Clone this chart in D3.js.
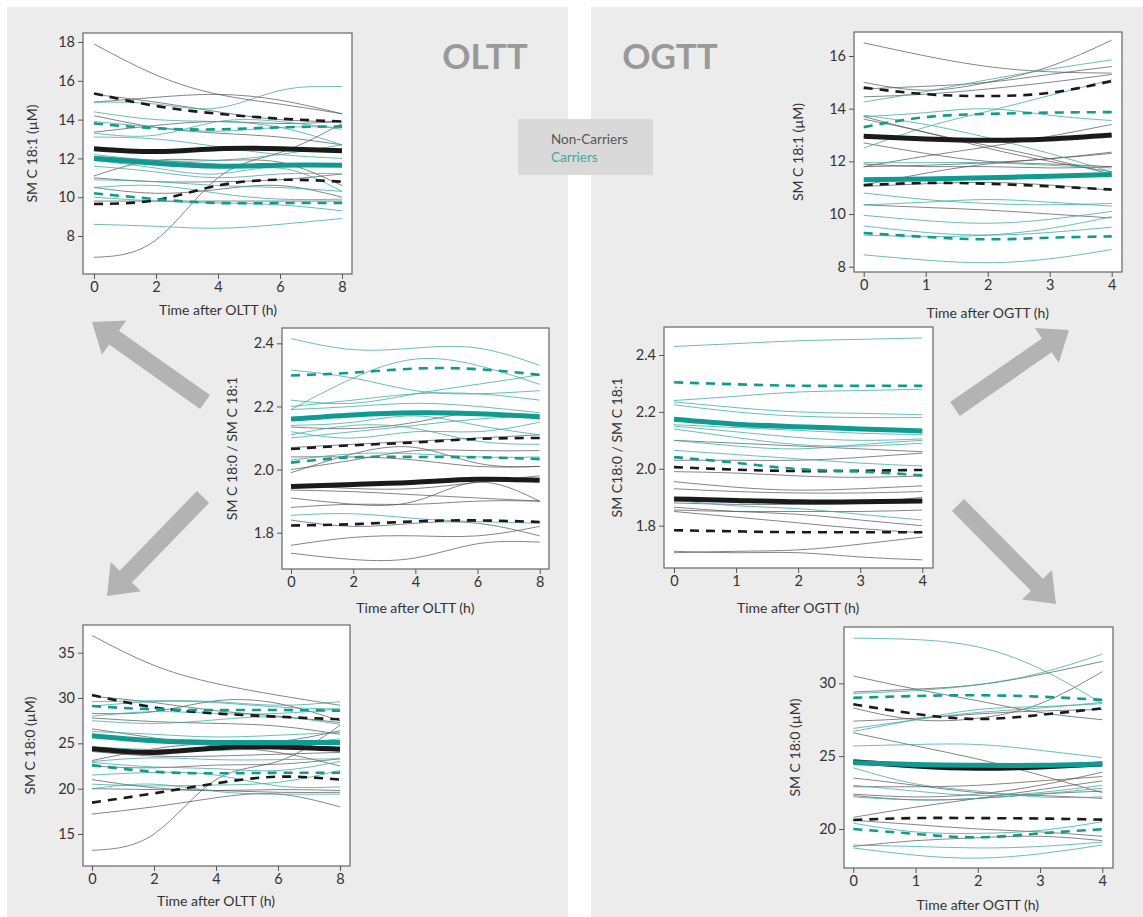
<!DOCTYPE html>
<html>
<head>
<meta charset="utf-8">
<script src="https://cdn.jsdelivr.net/npm/d3@7"></script>
<style>
  body { margin: 0; background: #fff; font-family: Lato, "Open Sans", sans-serif; }
  svg text { font-family: Lato, "Open Sans", sans-serif; }
  .tick text { font-size: 14.5px; fill: #333; }
  .tick line { stroke: #555; }
</style>
</head>
<body>
<div id="chart"></div>
<script>
// ---- data ----
const oltTimes = [0, 2, 4, 6, 8];
const ogtTimes = [0, 1, 2, 3, 4];

// OLTT, SM C 18:1
const oltC181Non = [
  [17.9, 16.3, 15.3, 14.8, 14.3], [6.9, 7.8, 11.0, 12.3, 13.8], [14.9, 15.15, 15.3, 15.0, 14.3],
  [15.3, 14.9, 14.4, 14.0, 13.9], [14.2, 13.6, 13.3, 13.1, 12.7], [13.35, 13.7, 13.9, 13.8, 13.9],
  [11.1, 11.9, 11.9, 11.8, 10.6], [12.1, 11.9, 11.7, 11.6, 11.7], [11.0, 10.8, 10.8, 10.9, 11.2],
  [10.5, 10.2, 10.4, 10.6, 10.0], [9.8, 9.8, 9.8, 9.8, 9.8]
];
const oltC181Car = [
  [14.9, 14.8, 14.6, 15.5, 15.7], [14.4, 14.0, 13.9, 13.6, 12.7], [13.1, 13.0, 12.6, 12.2, 12.0],
  [13.3, 13.2, 13.9, 13.9, 13.5], [12.2, 11.9, 11.9, 12.2, 12.7], [11.6, 11.3, 11.0, 11.2, 11.2],
  [10.9, 10.8, 10.6, 10.5, 10.3], [10.5, 10.6, 10.2, 9.9, 9.9], [10.0, 9.8, 9.7, 9.6, 9.3],
  [8.6, 8.5, 8.4, 8.6, 8.9], [11.9, 11.5, 11.2, 11.5, 10.3], [13.9, 13.6, 13.4, 13.6, 13.6]
];
const oltC181NonMean = [12.5, 12.35, 12.5, 12.5, 12.4];
const oltC181NonHi = [15.35, 14.7, 14.3, 14.05, 13.9];
const oltC181NonLo = [9.65, 9.85, 10.6, 10.9, 10.8];
const oltC181CarMean = [12.0, 11.75, 11.6, 11.65, 11.65];
const oltC181CarHi = [13.8, 13.55, 13.5, 13.6, 13.65];
const oltC181CarLo = [10.2, 9.9, 9.7, 9.7, 9.7];

// OGTT, SM C 18:1
const ogtC181Non = [
  [16.5, 16.0, 15.6, 15.4, 15.35], [15.0, 14.7, 15.0, 15.6, 16.6], [14.75, 14.85, 15.0, 15.3, 15.6],
  [14.45, 14.55, 14.75, 15.0, 15.3], [13.7, 13.1, 12.6, 12.1, 11.5], [13.6, 13.1, 12.5, 12.0, 11.6],
  [12.7, 12.3, 12.0, 11.9, 11.8], [11.8, 12.2, 12.55, 12.95, 13.4], [11.8, 11.85, 11.95, 12.1, 12.35],
  [11.9, 11.8, 11.8, 11.75, 11.8], [11.1, 11.55, 11.9, 12.1, 12.3], [10.35, 10.25, 10.15, 10.0, 9.85],
  [11.05, 11.15, 11.2, 11.1, 10.9]
];
const ogtC181Car = [
  [14.25, 14.65, 15.1, 15.5, 15.85], [12.5, 13.3, 13.9, 14.5, 15.1], [13.7, 13.85, 14.0, 13.75, 13.55],
  [13.75, 13.4, 12.9, 12.3, 11.6], [11.95, 11.95, 11.95, 11.85, 11.75], [10.8, 10.55, 10.4, 10.35, 10.4],
  [10.35, 10.45, 10.55, 10.45, 10.3], [9.95, 9.75, 9.65, 9.8, 10.1], [9.55, 9.3, 9.2, 9.3, 9.5],
  [9.2, 9.15, 9.2, 9.45, 9.9], [8.45, 8.25, 8.15, 8.3, 8.65]
];
const ogtC181NonMean = [12.95, 12.85, 12.8, 12.85, 13.0];
const ogtC181NonHi = [14.8, 14.55, 14.48, 14.6, 15.05];
const ogtC181NonLo = [11.1, 11.18, 11.15, 11.05, 10.93];
const ogtC181CarMean = [11.3, 11.33, 11.38, 11.43, 11.5];
const ogtC181CarHi = [13.3, 13.68, 13.8, 13.85, 13.87];
const ogtC181CarLo = [9.28, 9.13, 9.04, 9.1, 9.15];

// OLTT, ratio
const oltRatioNon = [
  [2.135, 2.13, 2.15, 2.18, 2.16], [2.07, 2.08, 2.09, 2.1, 2.11], [2.0, 2.03, 2.06, 2.06, 2.06],
  [1.99, 2.05, 2.07, 2.02, 2.01], [2.04, 2.04, 2.03, 2.01, 2.01], [1.935, 1.93, 1.92, 1.91, 1.9],
  [1.91, 1.89, 1.9, 1.96, 1.9], [1.88, 1.89, 1.89, 1.9, 1.9], [1.84, 1.82, 1.83, 1.83, 1.79],
  [1.76, 1.785, 1.79, 1.79, 1.82], [1.735, 1.715, 1.72, 1.765, 1.77], [1.95, 1.94, 1.94, 1.96, 1.98]
];
const oltRatioCar = [
  [2.415, 2.38, 2.385, 2.385, 2.33], [2.19, 2.29, 2.35, 2.33, 2.27], [2.315, 2.29, 2.25, 2.24, 2.25],
  [2.22, 2.21, 2.24, 2.27, 2.30], [2.2, 2.22, 2.24, 2.24, 2.22], [2.19, 2.2, 2.21, 2.2, 2.18],
  [2.14, 2.15, 2.17, 2.14, 2.11], [2.12, 2.1, 2.12, 2.12, 2.15], [2.11, 2.14, 2.13, 2.09, 2.08],
  [2.03, 2.05, 2.05, 2.04, 2.04], [1.855, 1.86, 1.845, 1.835, 1.83], [2.1, 2.12, 2.14, 2.16, 2.17]
];
const oltRatioNonMean = [1.946, 1.953, 1.96, 1.969, 1.966];
const oltRatioNonHi = [2.065, 2.077, 2.086, 2.097, 2.1];
const oltRatioNonLo = [1.823, 1.827, 1.836, 1.839, 1.834];
const oltRatioCarMean = [2.16, 2.173, 2.18, 2.177, 2.167];
const oltRatioCarHi = [2.298, 2.307, 2.32, 2.318, 2.3];
const oltRatioCarLo = [2.022, 2.039, 2.04, 2.039, 2.033];

// OGTT, ratio
const ogtRatioNon = [
  [2.1, 2.09, 2.08, 2.07, 2.06], [1.99, 1.985, 1.975, 1.97, 1.975], [1.955, 1.935, 1.925, 1.93, 1.94],
  [1.93, 1.92, 1.915, 1.915, 1.92], [1.88, 1.875, 1.875, 1.88, 1.9], [1.865, 1.85, 1.84, 1.82, 1.8],
  [1.855, 1.85, 1.85, 1.85, 1.855], [1.85, 1.83, 1.81, 1.79, 1.775], [1.705, 1.71, 1.715, 1.735, 1.76],
  [1.71, 1.705, 1.705, 1.69, 1.68], [2.03, 2.03, 2.03, 2.04, 2.055]
];
const ogtRatioCar = [
  [2.43, 2.44, 2.45, 2.455, 2.46], [2.24, 2.255, 2.27, 2.275, 2.28], [2.235, 2.215, 2.2, 2.195, 2.19],
  [2.225, 2.2, 2.185, 2.18, 2.18], [2.155, 2.145, 2.135, 2.125, 2.12], [2.15, 2.13, 2.11, 2.1, 2.105],
  [2.14, 2.11, 2.085, 2.08, 2.09], [2.065, 2.05, 2.035, 2.02, 2.01], [1.89, 1.87, 1.86, 1.84, 1.82],
  [2.1, 2.08, 2.07, 2.085, 2.1]
];
const ogtRatioNonMean = [1.894, 1.889, 1.884, 1.884, 1.887];
const ogtRatioNonHi = [2.006, 1.997, 1.992, 1.993, 1.996];
const ogtRatioNonLo = [1.784, 1.78, 1.777, 1.777, 1.777];
const ogtRatioCarMean = [2.174, 2.157, 2.148, 2.14, 2.133];
const ogtRatioCarHi = [2.304, 2.297, 2.292, 2.292, 2.292];
const ogtRatioCarLo = [2.041, 2.021, 1.999, 1.99, 1.977];

// OLTT, SM C 18:0
const oltC180Non = [
  [36.9, 33.6, 31.6, 30.3, 29.2], [13.2, 15.0, 21.0, 23.0, 27.0], [30.2, 29.5, 28.6, 28.0, 27.3],
  [28.3, 28.5, 29.7, 29.4, 27.5], [27.8, 27.4, 27.2, 26.9, 26.0], [26.6, 25.6, 24.7, 24.0, 22.5],
  [23.1, 24.4, 25.0, 25.2, 26.4], [24.1, 23.6, 23.6, 23.8, 24.0], [22.5, 22.3, 22.6, 22.7, 23.3],
  [21.0, 20.1, 19.8, 19.9, 19.8], [20.0, 19.9, 19.8, 19.6, 19.6], [17.2, 18.0, 19.0, 19.4, 18.0]
];
const oltC180Car = [
  [29.6, 29.7, 29.6, 29.2, 29.6], [29.1, 29.6, 29.5, 29.0, 28.8], [28.0, 28.5, 28.3, 28.3, 28.8],
  [27.5, 27.2, 27.6, 27.9, 27.1], [26.3, 26.0, 25.7, 25.9, 26.2], [25.8, 25.5, 25.3, 25.0, 25.5],
  [24.6, 24.3, 24.2, 24.5, 24.7], [23.0, 23.4, 23.2, 23.2, 23.3], [22.9, 22.4, 22.2, 22.0, 23.0],
  [21.5, 21.8, 21.5, 20.3, 20.2], [20.5, 20.3, 20.4, 20.7, 22.0], [20.0, 20.5, 19.7, 19.4, 19.4]
];
const oltC180NonMean = [24.4, 24.0, 24.5, 24.6, 24.35];
const oltC180NonHi = [30.33, 28.97, 28.3, 27.94, 27.65];
const oltC180NonLo = [18.46, 19.49, 20.59, 21.32, 21.0];
const oltC180CarMean = [25.85, 25.3, 25.1, 25.1, 25.1];
const oltC180CarHi = [29.12, 28.75, 28.68, 28.68, 28.6];
const oltC180CarLo = [22.6, 21.87, 21.7, 21.75, 21.76];

// OGTT, SM C 18:0
const ogtC180Non = [
  [30.5, 29.6, 28.8, 28.0, 27.5], [28.3, 27.5, 27.6, 28.6, 30.8], [29.4, 29.6, 29.9, 30.6, 31.5],
  [27.4, 27.6, 27.9, 28.1, 28.2], [26.6, 25.7, 24.8, 23.7, 22.5], [23.5, 23.0, 22.5, 22.3, 22.1],
  [22.9, 22.9, 23.0, 23.3, 23.6], [22.3, 22.0, 22.1, 22.4, 22.6], [20.8, 21.5, 22.1, 22.7, 23.3],
  [20.6, 20.3, 20.0, 19.8, 19.5], [18.8, 19.2, 19.4, 19.5, 19.2], [22.4, 22.2, 22.4, 23.0, 23.9]
];
const ogtC180Car = [
  [33.1, 33.0, 32.5, 31.0, 28.6], [29.3, 29.5, 29.9, 30.7, 32.0], [26.7, 27.5, 28.2, 28.4, 28.6],
  [26.9, 27.5, 28.0, 28.3, 28.7], [25.7, 25.8, 25.8, 25.4, 24.9], [24.2, 23.1, 22.6, 22.2, 22.2],
  [23.0, 22.6, 22.3, 22.5, 23.0], [22.2, 22.0, 22.1, 22.4, 22.8], [20.4, 19.8, 19.7, 19.9, 20.5],
  [18.9, 18.8, 18.7, 18.8, 19.1], [18.7, 18.2, 18.0, 18.3, 18.9]
];
const ogtC180NonMean = [24.62, 24.33, 24.17, 24.26, 24.46];
const ogtC180NonHi = [28.56, 27.9, 27.55, 27.83, 28.28];
const ogtC180NonLo = [20.62, 20.75, 20.75, 20.72, 20.64];
const ogtC180CarMean = [24.55, 24.42, 24.37, 24.37, 24.46];
const ogtC180CarHi = [29.0, 29.13, 29.18, 29.08, 28.86];
const ogtC180CarLo = [20.0, 19.66, 19.43, 19.7, 19.98];

// ---- layout ----
const W = 1143, H = 917;
const teal = "#0f9b92", tealThin = "#3aaaa3", dark = "#1a1a1a", greyThin = "#555";

const svg = d3.select("#chart").append("svg").attr("width", W).attr("height", H);

svg.append("rect").attr("x", 7).attr("y", 7).attr("width", 561).attr("height", 910).attr("fill", "#ececec");
svg.append("rect").attr("x", 591).attr("y", 7).attr("width", 552).attr("height", 910).attr("fill", "#ececec");

svg.append("text").attr("x", 485).attr("y", 69).attr("text-anchor", "middle")
  .attr("font-size", 35).attr("font-weight", "bold").attr("fill", "#999").text("OLTT");
svg.append("text").attr("x", 670).attr("y", 69).attr("text-anchor", "middle")
  .attr("font-size", 35).attr("font-weight", "bold").attr("fill", "#999").text("OGTT");

// legend
svg.append("rect").attr("x", 518).attr("y", 119).attr("width", 135).attr("height", 56).attr("fill", "#d9d9da");
svg.append("text").attr("x", 551).attr("y", 144).attr("font-size", 13.5).attr("fill", "#555").text("Non-Carriers");
svg.append("text").attr("x", 551).attr("y", 162).attr("font-size", 13.5).attr("fill", tealThin).text("Carriers");

// arrows
function arrow(tail, tip) {
  const dx = tip[0] - tail[0], dy = tip[1] - tail[1];
  const len = Math.hypot(dx, dy), ux = dx / len, uy = dy / len, nx = -uy, ny = ux;
  const sw = 8.5, hw = 21, hl = 27;
  const bx = tip[0] - ux * hl, by = tip[1] - uy * hl;
  const pts = [
    [tail[0] + nx * sw, tail[1] + ny * sw], [bx + nx * sw, by + ny * sw], [bx + nx * hw, by + ny * hw],
    tip, [bx - nx * hw, by - ny * hw], [bx - nx * sw, by - ny * sw], [tail[0] - nx * sw, tail[1] - ny * sw]
  ];
  svg.append("polygon").attr("points", pts.map(p => p.join(",")).join(" ")).attr("fill", "#b3b3b3");
}
arrow([205, 402], [92, 322]);
arrow([203, 497], [107, 596]);
arrow([955, 409], [1069, 330]);
arrow([958, 505], [1056, 604]);

function panel(cfg) {
  const x = d3.scaleLinear().domain([0, cfg.xMax]).range(cfg.xr);
  const y = d3.scaleLinear().domain(cfg.yd).range(cfg.yr);
  const f = cfg.frame; // [left, top, right, bottom]
  const g = svg.append("g");
  const id = "clip" + cfg.id;
  svg.append("clipPath").attr("id", id).append("rect")
    .attr("x", f[0]).attr("y", f[1]).attr("width", f[2] - f[0]).attr("height", f[3] - f[1]);
  g.append("rect").attr("x", f[0]).attr("y", f[1]).attr("width", f[2] - f[0]).attr("height", f[3] - f[1])
    .attr("fill", "#fff");

  const line = d3.line().x((d, i) => x(cfg.times[i])).y(d => y(d)).curve(d3.curveNatural);
  const lines = g.append("g").attr("clip-path", `url(#${id})`);

  lines.selectAll(".non").data(cfg.non).join("path").attr("d", line)
    .attr("fill", "none").attr("stroke", greyThin).attr("stroke-width", 0.9).attr("stroke-opacity", 0.8);
  lines.selectAll(".car").data(cfg.car).join("path").attr("d", line)
    .attr("fill", "none").attr("stroke", tealThin).attr("stroke-width", 0.9).attr("stroke-opacity", 0.85);

  [[cfg.nonHi, dark], [cfg.nonLo, dark], [cfg.carHi, teal], [cfg.carLo, teal]].forEach(([d, c]) => {
    lines.append("path").datum(d).attr("d", line).attr("fill", "none").attr("stroke", c)
      .attr("stroke-width", 2.6).attr("stroke-dasharray", "9,7");
  });
  lines.append("path").datum(cfg.nonMean).attr("d", line).attr("fill", "none").attr("stroke", dark).attr("stroke-width", 5);
  lines.append("path").datum(cfg.carMean).attr("d", line).attr("fill", "none").attr("stroke", teal).attr("stroke-width", 5);

  g.append("rect").attr("x", f[0]).attr("y", f[1]).attr("width", f[2] - f[0]).attr("height", f[3] - f[1])
    .attr("fill", "none").attr("stroke", "#666").attr("stroke-width", 1.2);

  const xa = g.append("g").attr("transform", `translate(0,${f[3]})`)
    .call(d3.axisBottom(x).tickValues(cfg.xTicks).tickFormat(d3.format("d")).tickSize(5).tickPadding(3));
  const ya = g.append("g").attr("transform", `translate(${f[0]},0)`)
    .call(d3.axisLeft(y).tickValues(cfg.yTicks).tickFormat(cfg.yFmt).tickSize(5).tickPadding(3));
  xa.select(".domain").remove();
  ya.select(".domain").remove();

  g.append("text").attr("x", (cfg.xr[0] + cfg.xr[1]) / 2).attr("y", cfg.xLabelY).attr("text-anchor", "middle")
    .attr("font-size", 14).attr("fill", "#333").text(cfg.xLabel);
  g.append("text").attr("transform", `translate(${cfg.yLabelX},${(f[1] + f[3]) / 2}) rotate(-90)`)
    .attr("text-anchor", "middle").attr("font-size", 14).attr("fill", "#333").text(cfg.yLabel);
}

const intFmt = d3.format("d"), decFmt = d3.format(".1f");

panel({ id: 1, frame: [83, 33, 352, 274], xr: [94, 342], yd: [8, 18], yr: [236, 42], xMax: 8,
  times: oltTimes, xTicks: [0, 2, 4, 6, 8], yTicks: [8, 10, 12, 14, 16, 18], yFmt: intFmt,
  non: oltC181Non, car: oltC181Car, nonMean: oltC181NonMean, nonHi: oltC181NonHi, nonLo: oltC181NonLo,
  carMean: oltC181CarMean, carHi: oltC181CarHi, carLo: oltC181CarLo,
  xLabel: "Time after OLTT (h)", xLabelY: 315, yLabel: "SM C 18:1 (µM)", yLabelX: 37 });

panel({ id: 2, frame: [854, 32, 1122, 272], xr: [863.7, 1111.7], yd: [8, 16], yr: [266.7, 56], xMax: 4,
  times: ogtTimes, xTicks: [0, 1, 2, 3, 4], yTicks: [8, 10, 12, 14, 16], yFmt: intFmt,
  non: ogtC181Non, car: ogtC181Car, nonMean: ogtC181NonMean, nonHi: ogtC181NonHi, nonLo: ogtC181NonLo,
  carMean: ogtC181CarMean, carHi: ogtC181CarHi, carLo: ogtC181CarLo,
  xLabel: "Time after OGTT (h)", xLabelY: 318, yLabel: "SM C 18:1 (µM)", yLabelX: 803 });

panel({ id: 3, frame: [282, 328, 549, 569], xr: [291, 539.7], yd: [1.8, 2.4], yr: [532.7, 343.3], xMax: 8,
  times: oltTimes, xTicks: [0, 2, 4, 6, 8], yTicks: [1.8, 2.0, 2.2, 2.4], yFmt: decFmt,
  non: oltRatioNon, car: oltRatioCar, nonMean: oltRatioNonMean, nonHi: oltRatioNonHi, nonLo: oltRatioNonLo,
  carMean: oltRatioCarMean, carHi: oltRatioCarHi, carLo: oltRatioCarLo,
  xLabel: "Time after OLTT (h)", xLabelY: 613, yLabel: "SM C 18:0 / SM C 18:1", yLabelX: 237 });

panel({ id: 4, frame: [664, 327, 933, 568], xr: [674, 922.3], yd: [1.8, 2.4], yr: [525.7, 355], xMax: 4,
  times: ogtTimes, xTicks: [0, 1, 2, 3, 4], yTicks: [1.8, 2.0, 2.2, 2.4], yFmt: decFmt,
  non: ogtRatioNon, car: ogtRatioCar, nonMean: ogtRatioNonMean, nonHi: ogtRatioNonHi, nonLo: ogtRatioNonLo,
  carMean: ogtRatioCarMean, carHi: ogtRatioCarHi, carLo: ogtRatioCarLo,
  xLabel: "Time after OGTT (h)", xLabelY: 613, yLabel: "SM C18:0 / SM C 18:1", yLabelX: 622 });

panel({ id: 5, frame: [83, 625, 350, 866], xr: [92, 340], yd: [15, 35], yr: [834, 652.7], xMax: 8,
  times: oltTimes, xTicks: [0, 2, 4, 6, 8], yTicks: [15, 20, 25, 30, 35], yFmt: intFmt,
  non: oltC180Non, car: oltC180Car, nonMean: oltC180NonMean, nonHi: oltC180NonHi, nonLo: oltC180NonLo,
  carMean: oltC180CarMean, carHi: oltC180CarHi, carLo: oltC180CarLo,
  xLabel: "Time after OLTT (h)", xLabelY: 906, yLabel: "SM C 18:0 (µM)", yLabelX: 35 });

panel({ id: 6, frame: [844, 627, 1113, 868], xr: [853.3, 1102.3], yd: [20, 30], yr: [829, 683.3], xMax: 4,
  times: ogtTimes, xTicks: [0, 1, 2, 3, 4], yTicks: [20, 25, 30], yFmt: intFmt,
  non: ogtC180Non, car: ogtC180Car, nonMean: ogtC180NonMean, nonHi: ogtC180NonHi, nonLo: ogtC180NonLo,
  carMean: ogtC180CarMean, carHi: ogtC180CarHi, carLo: ogtC180CarLo,
  xLabel: "Time after OGTT (h)", xLabelY: 910, yLabel: "SM C 18:0 (µM)", yLabelX: 800 });
</script>
</body>
</html>
